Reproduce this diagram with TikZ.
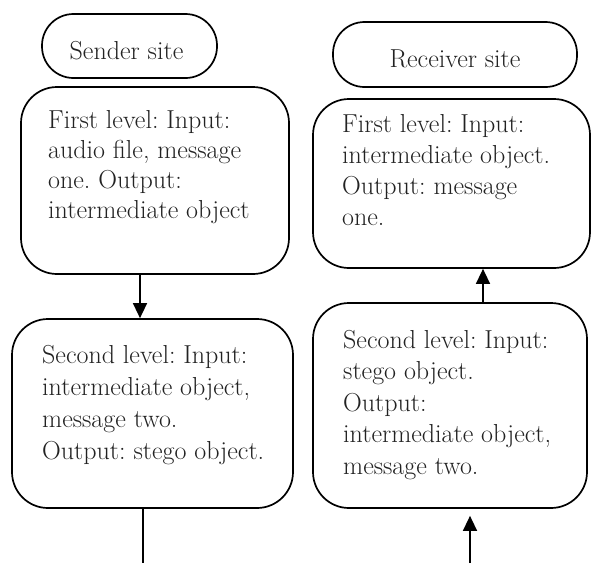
\documentclass[tikz,border=0pt]{standalone}
\usetikzlibrary{arrows.meta}
\definecolor{inkgray}{HTML}{222222}
\frenchspacing
\begin{document}
\begin{tikzpicture}[x=1pt,y=-1pt,
  frame/.style={draw=black, line width=1.7pt, inner sep=0pt},
  pill/.style={frame, rounded corners=31.5pt},
  stage/.style={frame, rounded corners=36pt},
  label/.style={inner sep=0pt, text=inkgray, font=\fontsize{26}{31}\selectfont},
  body/.style={label, align=left, anchor=north west},
  conn/.style={line width=1.4pt},
  arr/.style={conn, -{Triangle[length=15pt,width=14pt]}}]
\fill[white] (0,0) rectangle (592,563);
\useasboundingbox (0,0) rectangle (592,563);

% site headers
\node[pill, minimum width=175pt, minimum height=64pt] (sp) at (129.5,46) {};
\node[label, anchor=base] (spt) at (126.5,59) {Sender site};
\node[pill, minimum width=244pt, minimum height=65pt] (rp) at (455,54.5) {};
\node[label, anchor=base] (rpt) at (455,67) {Receiver site};

% sender stages
\node[stage, minimum width=268pt, minimum height=187pt] (s1) at (155,180.5) {};
\node[body, font=\fontsize{26}{30}\selectfont] (s1t) at (48,110) {First level: Input:\\audio file, message\\one. Output:\\intermediate object};
\node[stage, minimum width=281pt, minimum height=189pt] (s2) at (152.5,413.5) {};
\node[body, font=\fontsize{26}{32}\selectfont] (s2t) at (42,345) {Second level: Input:\\intermediate object,\\message two.\\Output: stego object.};

% receiver stages
\node[stage, minimum width=277pt, minimum height=169pt] (r1) at (451.5,183.5) {};
\node[body, font=\fontsize{26}{31}\selectfont] (r1t) at (342,114) {First level: Input:\\intermediate object.\\Output: message\\one.};
\node[stage, minimum width=274pt, minimum height=205pt] (r2) at (450,405.5) {};
\node[body, font=\fontsize{26}{31.5}\selectfont] (r2t) at (343,330) {Second level: Input:\\stego object.\\Output:\\intermediate object,\\message two.};

% connectors
\coordinate (xa) at (140,0);
\coordinate (xb) at (143,563);
\coordinate (xc) at (483,0);
\coordinate (xd) at (470,563);
\draw[arr] (s1.south -| xa) -- (s2.north -| xa);
\draw[conn] (s2.south -| xb) -- (xb);
\draw[arr] (r2.north -| xc) -- (r1.south -| xc);
\draw[arr, shorten >=7pt] (xd) -- (r2.south -| xd);
\end{tikzpicture}
\end{document}
